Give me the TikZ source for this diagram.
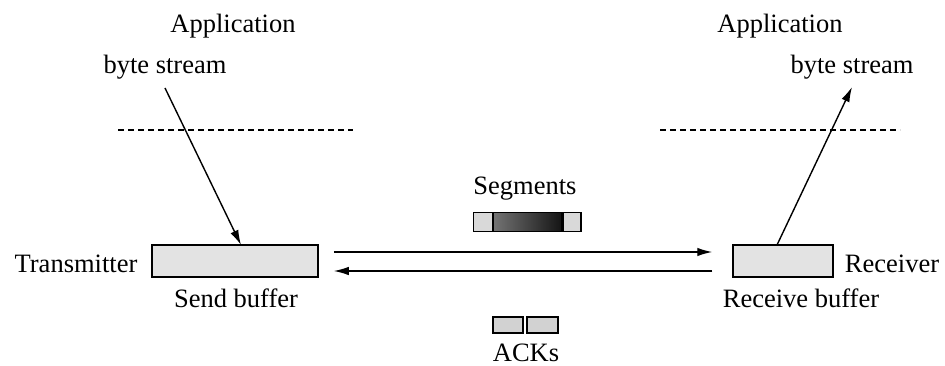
\documentclass[tikz,border=0pt]{standalone}
\usepackage{fontspec}
\setmainfont{Liberation Serif}
\usetikzlibrary{arrows.meta}
\begin{document}
\begin{tikzpicture}[x=1pt,y=-1pt,
  lbl/.style={anchor=base,inner sep=0pt,font=\fontsize{26.5}{30}\selectfont},
  buf/.style={draw=black,line width=1.5pt,fill=gray!22,minimum height=32pt,inner sep=0pt},
  arr/.style={line width=1.4pt,-{Latex[length=15pt,width=8.5pt]}},
  sep/.style={line width=1.1pt,dash pattern=on 6pt off 4pt},
  pkt/.style={draw=black,line width=1.3pt,inner sep=0pt}]
\useasboundingbox (0,0) rectangle (945,366);
% texts
\node[lbl] (appL) at (233,33) {Application};
\node[lbl] (appR) at (780,33) {Application};
\node[lbl] (bsL) at (165,74) {byte stream};
\node[lbl] (bsR) at (852,74) {byte stream};
\node[lbl] (tx) at (76,272) {Transmitter};
\node[lbl] (rx) at (892,272) {Receiver};
\node[lbl] (sbl) at (236,307) {Send buffer};
\node[lbl] (rbl) at (801,307) {Receive buffer};
\node[lbl] (seg) at (525,195) {Segments};
\node[lbl] (ack) at (526,361) {ACKs};
% dashed separators
\coordinate (dL1) at (118,130); \coordinate (dL2) at (353,130);
\coordinate (dR1) at (660,130); \coordinate (dR2) at (900,130);
\draw[sep] (dL1) -- (dL2);
\draw[sep] (dR1) -- (dR2);
% buffers
\node[buf,minimum width=166pt] (sendbuf) at (235,261) {};
\node[buf,minimum width=100pt] (recvbuf) at (783,261) {};
% byte stream arrows
\coordinate (bsLs) at (165,88); \coordinate (bsLe) at (241,245);
\coordinate (bsRs) at (777,245); \coordinate (bsRe) at (852,87);
\draw[arr] (bsLs) -- (bsLe);
\draw[arr] (bsRs) -- (bsRe);
% transfer arrows
\draw[arr,shorten <=15pt,shorten >=20pt] ([yshift=9pt]sendbuf.east) -- ([yshift=9pt]recvbuf.west);
\draw[arr,shorten <=20pt,shorten >=15pt] ([yshift=-10pt]recvbuf.west) -- ([yshift=-10pt]sendbuf.east);
% segments bar
\node[pkt,fill=gray!30,minimum width=19pt,minimum height=19pt] (s1) at (483,222) {};
\node[pkt,left color=black!55,right color=black!92,minimum width=68pt,minimum height=19pt,anchor=west] (s2) at (s1.east) {};
\node[pkt,fill=gray!30,minimum width=18pt,minimum height=19pt,anchor=west] (s3) at (s2.east) {};
% ack boxes
\node[pkt,fill=gray!35,minimum width=30pt,minimum height=16pt] (a1) at (508,325) {};
\node[pkt,fill=gray!35,minimum width=31pt,minimum height=16pt] (a2) at (542.5,325) {};
\end{tikzpicture}
\end{document}
